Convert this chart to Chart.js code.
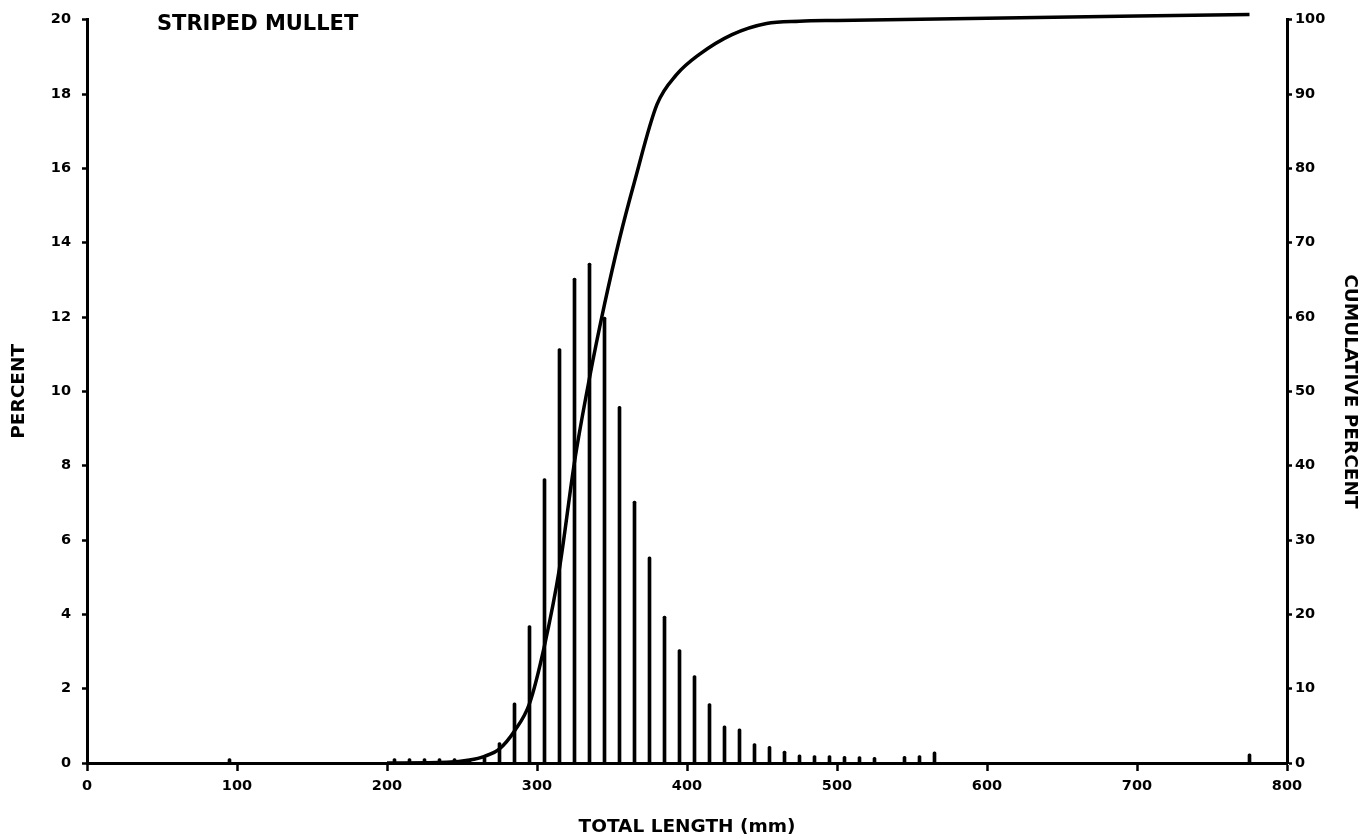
<!DOCTYPE html>
<html>
<head>
<meta charset="utf-8">
<script src="https://cdn.jsdelivr.net/npm/chart.js@4.4.1/dist/chart.umd.min.js"></script>
<style>
  body { margin: 0; background: #fff; }
  #wrap { width: 1366px; height: 838px; }
</style>
</head>
<body>
<div id="wrap"><canvas id="chart1" width="1366" height="838"></canvas></div>
<script>
// Frequência por classe de comprimento (mm) - tainha
const lengthBins = [95, 205, 215, 225, 235, 245, 255, 265, 275, 285, 295, 305, 315, 325, 335, 345,
    355, 365, 375, 385, 395, 405, 415, 425, 435, 445, 455, 465, 475, 485, 495, 505, 515, 525,
    545, 555, 565, 775];
const percentValues = [0.12, 0.12, 0.12, 0.12, 0.12, 0.12, 0.1, 0.15, 0.55, 1.62, 3.7, 7.65, 11.15, 13.05, 13.45, 12.0,
    9.6, 7.05, 5.55, 3.95, 3.05, 2.35, 1.6, 1.0, 0.92, 0.52, 0.45, 0.32, 0.22, 0.2, 0.2, 0.18, 0.17, 0.15,
    0.18, 0.2, 0.3, 0.25];

// Curva acumulada
const cumLengths = [200, 240, 255, 265, 275, 285, 295, 305, 315, 325, 335, 345, 355, 365, 380,
    393, 408, 430, 453, 475, 500, 600, 700, 775];
const cumPercent = [0, 0.1, 0.4, 0.9, 1.9, 4.3, 8.0, 15.8, 26.2, 40.5, 51.8, 61.7, 70.5, 78.2, 88.6,
    92.6, 95.3, 98.0, 99.5, 99.8, 99.9, 100.2, 100.5, 100.7];

const lengthTicks = [0, 100, 200, 300, 400, 500, 600, 700, 800];
const percentTicks = [0, 2, 4, 6, 8, 10, 12, 14, 16, 18, 20];
const cumTicks = [0, 10, 20, 30, 40, 50, 60, 70, 80, 90, 100];

const fam = '"DejaVu Sans", sans-serif';
const tickFont = { family: fam, size: 14.5, weight: 'bold' };
const titleFont = { family: fam, size: 18.5, weight: 'bold' };

function axisGrid(len) {
    return { offset: false, drawOnChartArea: false, drawTicks: true, tickLength: len, tickWidth: 2.5, color: '#000' };
}
const axisBorder = { display: true, color: '#000', width: 3 };

const chartTitle = {
    id: 'chartTitle',
    afterDraw(chart) {
        const c = chart.ctx;
        c.save();
        c.fillStyle = '#000';
        c.font = 'bold 21px ' + fam;
        c.textBaseline = 'alphabetic';
        c.fillText('STRIPED MULLET', chart.chartArea.left + 70, 30);
        c.restore();
    }
};

const ctx1 = document.getElementById('chart1').getContext('2d');
new Chart(ctx1, {
    type: 'bar',
    data: {
        datasets: [{
            type: 'line',
            data: cumLengths.map((x, i) => ({ x: x, y: cumPercent[i] })),
            yAxisID: 'y2',
            borderColor: '#000',
            borderWidth: 3.5,
            pointRadius: 0,
            cubicInterpolationMode: 'monotone',
            fill: false,
            clip: 12
        }, {
            data: lengthBins.map((x, i) => ({ x: x, y: percentValues[i] })),
            yAxisID: 'y',
            backgroundColor: '#000',
            barThickness: 3,
            borderRadius: 1.5,
            borderSkipped: 'bottom',
            grouped: false
        }]
    },
    options: {
        responsive: false,
        animation: false,
        layout: { padding: { top: 17, left: 0, right: 0, bottom: 0 } },
        plugins: { legend: { display: false }, tooltip: { enabled: false } },
        scales: {
            x: {
                type: 'linear',
                min: 0, max: 800,
                offset: false,
                afterFit: s => { s.height = 75; },
                afterBuildTicks: s => { s.ticks = lengthTicks.map(v => ({ value: v })); },
                grid: axisGrid(8),
                border: axisBorder,
                ticks: { color: '#000', font: tickFont, padding: 7, maxRotation: 0, autoSkip: false },
                title: { display: true, text: 'TOTAL LENGTH (mm)', color: '#000', font: titleFont, padding: { bottom: 0, top: 0 } }
            },
            y: {
                position: 'left',
                min: 0, max: 20,
                afterFit: s => { s.width = 87; },
                afterBuildTicks: s => { s.ticks = percentTicks.map(v => ({ value: v })); },
                grid: axisGrid(5),
                border: axisBorder,
                ticks: { color: '#000', font: tickFont, padding: 11 },
                title: { display: true, text: 'PERCENT', color: '#000', font: titleFont, padding: { top: 8, bottom: 0 } }
            },
            y2: {
                position: 'right',
                min: 0, max: 100,
                afterFit: s => { s.width = 79; },
                afterBuildTicks: s => { s.ticks = cumTicks.map(v => ({ value: v })); },
                grid: axisGrid(5),
                border: axisBorder,
                ticks: { color: '#000', font: tickFont, padding: 3 },
                title: { display: true, text: 'CUMULATIVE PERCENT', color: '#000', font: titleFont, padding: { top: 5, bottom: 0 } }
            }
        }
    },
    plugins: [chartTitle]
});
</script>
</body>
</html>
